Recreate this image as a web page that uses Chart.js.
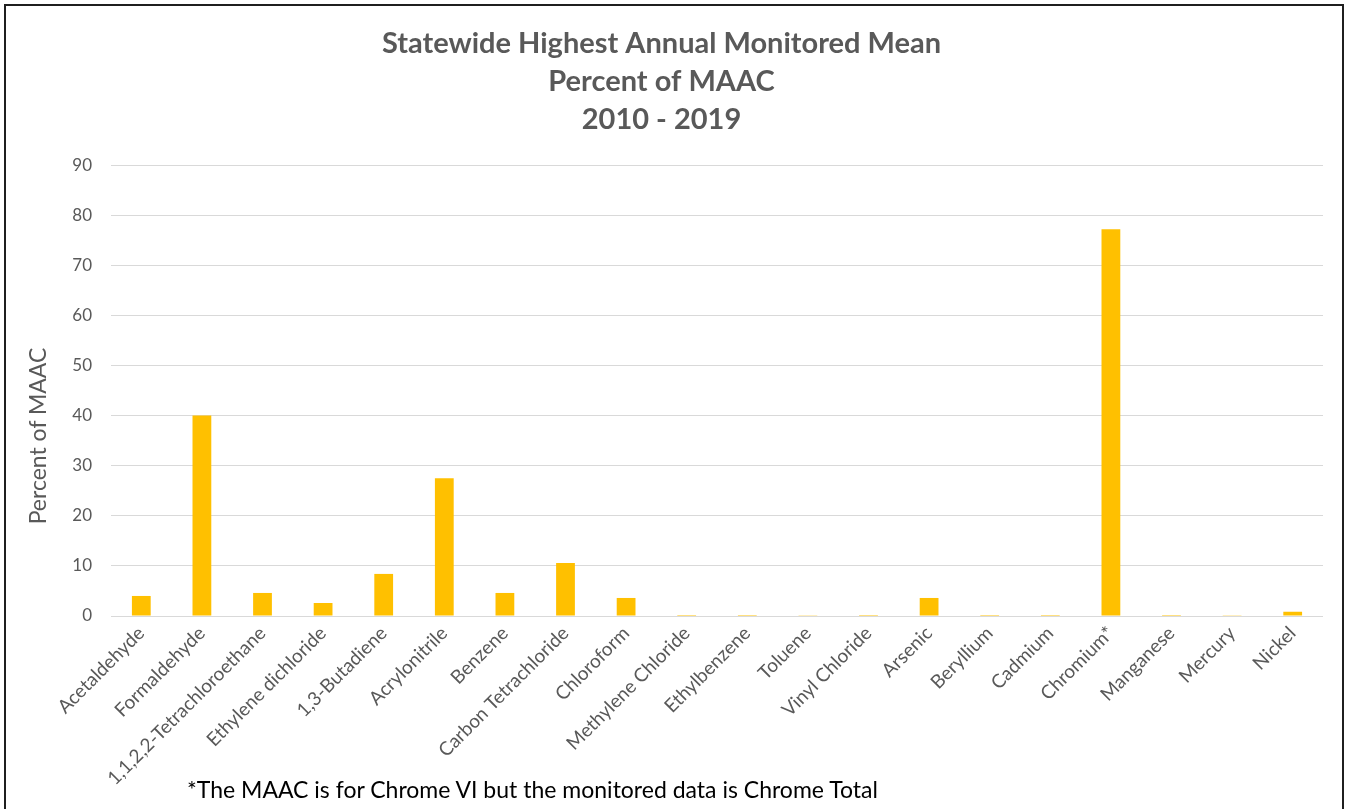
<!DOCTYPE html>
<html>
<head>
<meta charset="utf-8">
<script src="https://cdn.jsdelivr.net/npm/chart.js@4.4.1/dist/chart.umd.min.js"></script>
<style>
  html, body { margin: 0; padding: 0; background: #fff; overflow: hidden; }
  #wrap { position: relative; width: 1348px; height: 809px; }
  #chart { position: absolute; left: 0; top: 0; }
  #frame {
    position: absolute; left: 4px; top: 4px; width: 1340px; height: 900px;
    border: 2px solid #1f1f1f; box-sizing: border-box; pointer-events: none;
  }
  #ytitle {
    position: absolute; left: 37px; top: 436px;
    transform: translate(-50%, -50%) rotate(-90deg);
    font-family: Lato, sans-serif; font-size: 23px; color: #595959; white-space: nowrap;
  }
  #note {
    position: absolute; left: 187px; top: 775px;
    font-family: Lato, sans-serif; font-size: 23px; color: #000; white-space: nowrap;
  }
</style>
</head>
<body>
<div id="wrap">
  <canvas id="chart" width="1348" height="809"></canvas>
  <div id="frame"></div>
  <div id="ytitle">Percent of MAAC</div>
  <div id="note">*The MAAC is for Chrome VI but the monitored data is Chrome Total</div>
</div>
<script>
// categorias (poluentes)
const pollutants = [
  'Acetaldehyde', 'Formaldehyde', '1,1,2,2-Tetrachloroethane', 'Ethylene dichloride',
  '1,3-Butadiene', 'Acrylonitrile', 'Benzene', 'Carbon Tetrachloride', 'Chloroform',
  'Methylene Chloride', 'Ethylbenzene', 'Toluene', 'Vinyl Chloride', 'Arsenic',
  'Beryllium', 'Cadmium', 'Chromium*', 'Manganese', 'Mercury', 'Nickel'
];

// percentual do MAAC
const percentOfMaac = [
  4.0, 40.0, 4.6, 2.6,
  8.4, 27.5, 4.6, 10.6, 3.6,
  0.2, 0.2, 0.15, 0.2, 3.6,
  0.2, 0.2, 77.2, 0.2, 0.15, 0.85
];

const titleLines = ['Statewide Highest Annual Monitored Mean', 'Percent of MAAC', '2010 - 2019'];
const yTicks = [0, 10, 20, 30, 40, 50, 60, 70, 80, 90];

const ctx = document.getElementById('chart').getContext('2d');

new Chart(ctx, {
  type: 'bar',
  data: {
    labels: pollutants,
    datasets: [{
      label: 'Percent of MAAC',
      data: percentOfMaac,
      backgroundColor: '#FFC000',
      borderWidth: 0,
      barPercentage: 0.31,
      categoryPercentage: 1.0
    }]
  },
  options: {
    responsive: false,
    animation: false,
    devicePixelRatio: 1,
    layout: {
      padding: { top: 0, left: 0, right: 25, bottom: 0 }
    },
    plugins: {
      legend: { display: false },
      tooltip: { enabled: false },
      title: {
        display: true,
        text: titleLines,
        color: '#595959',
        font: { family: 'Lato', size: 29, weight: 'bold', lineHeight: 1.3 },
        padding: { top: 25, bottom: 27 }
      }
    },
    scales: {
      x: {
        grid: { display: false, drawTicks: false },
        border: { display: false },
        ticks: {
          color: '#595959',
          font: { family: 'Lato', size: 19 },
          maxRotation: 45,
          minRotation: 45,
          autoSkip: false,
          padding: 6
        },
        afterFit: function(scale) { scale.height = 193; }
      },
      y: {
        min: 0,
        max: 90,
        afterBuildTicks: function(scale) {
          scale.ticks = yTicks.map(v => ({ value: v }));
        },
        grid: { color: '#d9d9d9', lineWidth: 1, drawTicks: false },
        border: { display: false },
        ticks: {
          color: '#595959',
          font: { family: 'Lato', size: 17 },
          padding: 19
        },
        afterFit: function(scale) { scale.width = 111; }
      }
    }
  }
});
</script>
</body>
</html>
